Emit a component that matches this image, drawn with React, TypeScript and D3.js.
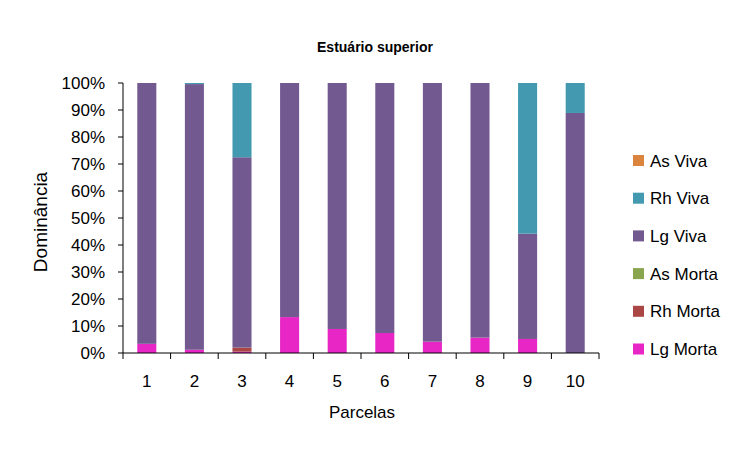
import React from "react";
import * as d3 from "d3";

const categories = ["1", "2", "3", "4", "5", "6", "7", "8", "9", "10"];
const seriesNames = ["Lg Morta", "Rh Morta", "As Morta", "Lg Viva", "Rh Viva", "As Viva"];
const lgMorta = [3.4, 1.2, 0.5, 13.3, 8.9, 7.4, 4.2, 5.7, 5.2, 0];
const rhMorta = [0, 0, 1.5, 0, 0, 0, 0, 0, 0, 0];
const asMorta = [0, 0, 0, 0, 0, 0, 0, 0, 0, 0];
const lgViva = [96.6, 98.4, 70.5, 86.7, 91.1, 92.6, 95.8, 94.3, 39.0, 88.9];
const rhViva = [0, 0.4, 27.5, 0, 0, 0, 0, 0, 55.8, 11.1];
const asViva = [0, 0, 0, 0, 0, 0, 0, 0, 0, 0];
const colors = ["#E726C5", "#AA4643", "#89A54E", "#725990", "#4299B0", "#DB843D"];
const yTicks = [0, 10, 20, 30, 40, 50, 60, 70, 80, 90, 100];
const legendOrder = ["As Viva", "Rh Viva", "Lg Viva", "As Morta", "Rh Morta", "Lg Morta"];

const FONT = "'Liberation Sans', Arial, sans-serif";

export default function App() {
  const W = 750, H = 450;
  const left = 123, right = 599, top = 83, bottom = 353;
  const band = d3.scaleBand().domain(categories).range([left, right]);
  const y = d3.scaleLinear().domain([0, 100]).range([bottom, top]);
  const seriesValues = [lgMorta, rhMorta, asMorta, lgViva, rhViva, asViva];
  const rows = categories.map((c, i) => {
    const o: any = { cat: c };
    seriesNames.forEach((s, j) => (o[s] = seriesValues[j][i]));
    return o;
  });
  const stacked = d3.stack().keys(seriesNames)(rows);
  const bw = band.bandwidth() * 0.4;

  return (
    <svg width={W} height={H} style={{ position: "absolute", left: 0, top: 0, background: "#fff" }}>
      <text x={375} y={52} textAnchor="middle" fontFamily={FONT} fontWeight="bold" fontSize={14} fill="#000">
        Estuário superior
      </text>
      {stacked.map((layer, j) => (
        <g key={layer.key} fill={colors[j]}>
          {layer.map((d, i) => {
            const h = y(d[0]) - y(d[1]);
            if (h <= 0) return null;
            const cx = band(categories[i])! + band.bandwidth() / 2;
            return <rect key={i} x={cx - bw / 2} y={y(d[1])} width={bw} height={h} />;
          })}
        </g>
      ))}
      {/* y axis */}
      <line x1={left} x2={left} y1={top} y2={bottom} stroke="#000" strokeWidth={1} />
      {yTicks.map((t) => (
        <g key={t}>
          <line x1={left - 5} x2={left} y1={y(t)} y2={y(t)} stroke="#000" />
          <text x={105} y={y(t) + 6} textAnchor="end" fontFamily={FONT} fontSize={17} fill="#000">
            {t}%
          </text>
        </g>
      ))}
      {/* x axis */}
      <line x1={left} x2={right} y1={bottom} y2={bottom} stroke="#000" />
      <line x1={left} x2={left} y1={bottom} y2={bottom + 6} stroke="#000" />
      {categories.map((c) => (
        <g key={c}>
          <line x1={band(c)! + band.bandwidth()} x2={band(c)! + band.bandwidth()} y1={bottom} y2={bottom + 6} stroke="#000" />
          <text x={band(c)! + band.bandwidth() / 2} y={387} textAnchor="middle" fontFamily={FONT} fontSize={17} fill="#000">
            {c}
          </text>
        </g>
      ))}
      <text x={362} y={418} textAnchor="middle" fontFamily={FONT} fontSize={17} fill="#000">
        Parcelas
      </text>
      <text transform={`translate(47,222) rotate(-90)`} textAnchor="middle" fontFamily={FONT} fontSize={19} fill="#000">
        Dominância
      </text>
      {legendOrder.map((name, k) => {
        const j = seriesNames.indexOf(name);
        const cy = 160.5 + k * 37.7;
        return (
          <g key={name}>
            <rect x={633} y={cy - 5.5} width={11} height={11} fill={colors[j]} />
            <text x={650} y={cy + 6} fontFamily={FONT} fontSize={17} fill="#000">
              {name}
            </text>
          </g>
        );
      })}
    </svg>
  );
}
